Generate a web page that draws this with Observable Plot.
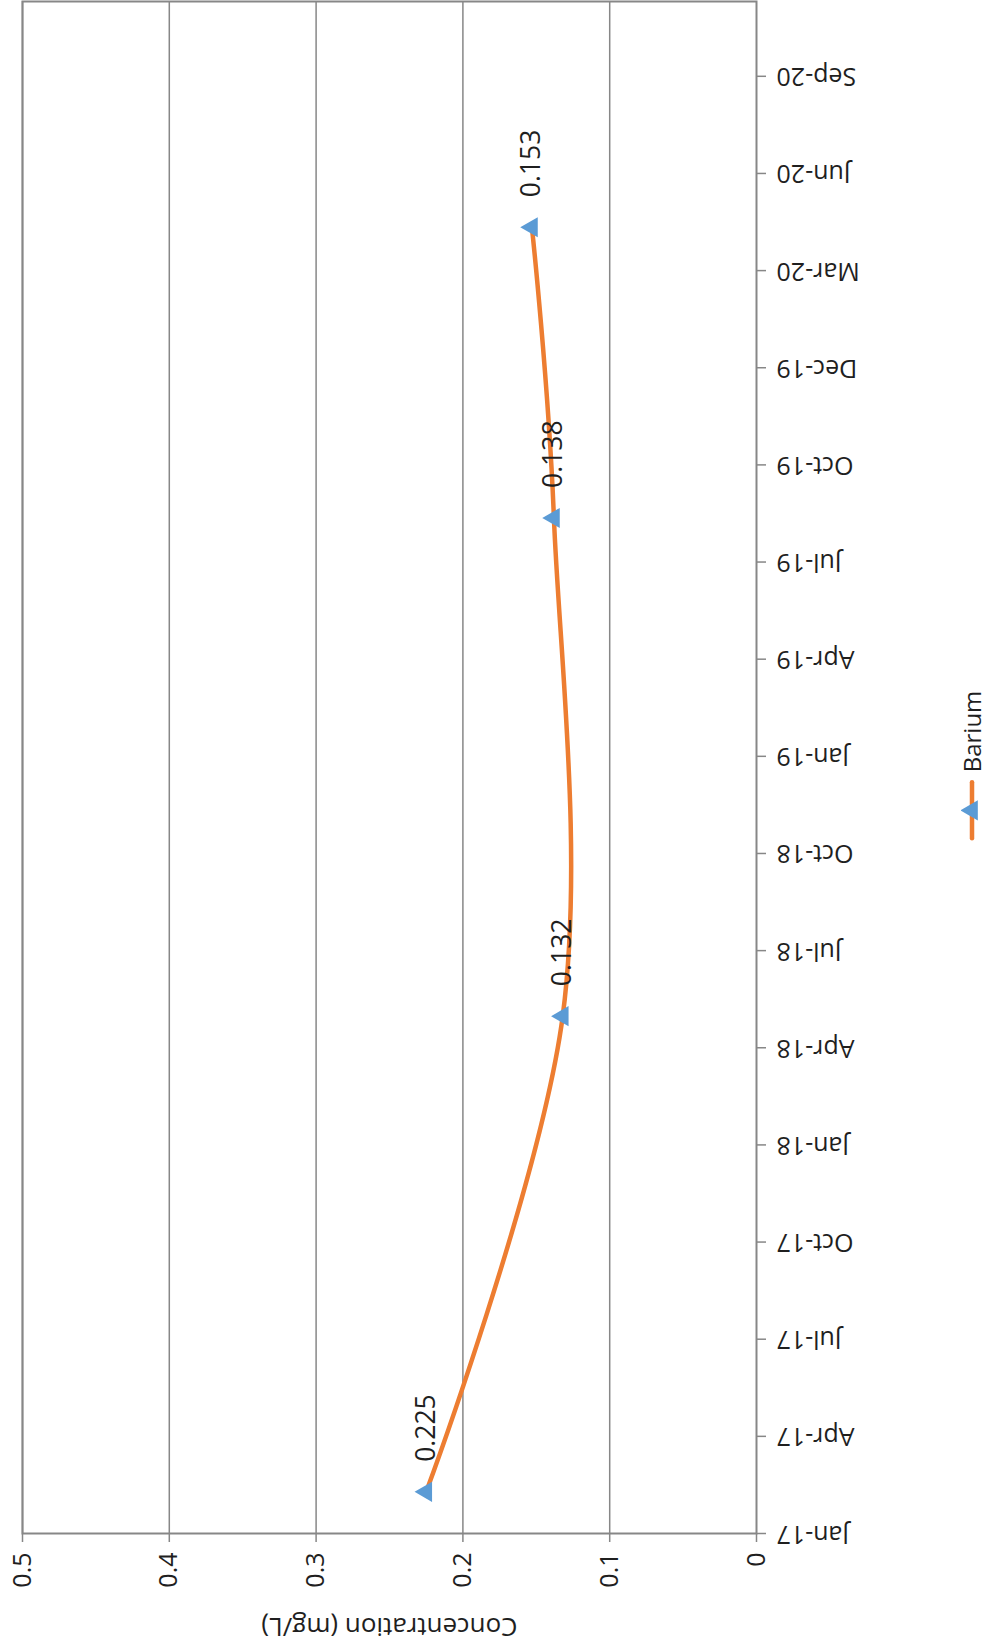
<!DOCTYPE html>
<html>
<head>
<meta charset="utf-8">
<script src="https://cdn.jsdelivr.net/npm/d3@7"></script>
<script src="https://cdn.jsdelivr.net/npm/@observablehq/plot@0.6"></script>
<style>
  html, body { margin: 0; padding: 0; background: #fff; }
  #chart { position: relative; width: 986px; height: 1649px; font-family: "Open Sans", sans-serif; color: #1f1f1f; }
  #chart svg { display: block; }
  .legend {
    position: absolute; left: 972px; top: 766px;
    transform: translate(-50%, -50%) rotate(-90deg);
    display: flex; align-items: center; gap: 7px; white-space: nowrap;
    font-size: 24px; line-height: 1;
  }
  .legend svg { display: block; }
</style>
</head>
<body>
<div id="chart"></div>
<script>
// Barium sampling results
const sampleDates = ["2017-02-13", "2018-05-04", "2019-08-13", "2020-05-11"];
const bariumValues = [0.225, 0.132, 0.138, 0.153];
const seriesName = "Barium";

// Axis ticks
const concentrationTicks = [0, 0.1, 0.2, 0.3, 0.4, 0.5];
const dateTickLabels = [
  "Jan-17", "Apr-17", "Jul-17", "Oct-17", "Jan-18", "Apr-18", "Jul-18", "Oct-18",
  "Jan-19", "Apr-19", "Jul-19", "Oct-19", "Dec-19", "Mar-20", "Jun-20", "Sep-20"
];

const lineColor = "#ED7D31";
const markerColor = "#5B9BD5";
const axisGray = "#878787";
const textColor = "#1f1f1f";

// Date axis with a fixed interval between ticks (in days)
const DAY = 864e5;
const axisStart = new Date(Date.UTC(2017, 0, 5));
const axisStepDays = 90.88;
const dateTicks = dateTickLabels.map((_, i) => new Date(+axisStart + i * axisStepDays * DAY));
const axisEnd = new Date(+axisStart + 15.77 * axisStepDays * DAY);
const labelByTime = new Map(dateTicks.map((d, i) => [+d, dateTickLabels[i]]));

const samples = sampleDates.map((d, i) => ({ date: new Date(d), value: bariumValues[i] }));

const chart = Plot.plot({
  width: 986,
  height: 1649,
  marginLeft: 22,
  marginRight: 230,
  marginTop: 1,
  marginBottom: 116,
  style: { fontFamily: '"Open Sans", sans-serif', fontSize: "25px", color: textColor, background: "#fff", overflow: "visible" },
  x: { domain: [0, 0.5], reverse: true },
  y: { type: "utc", domain: [axisStart, axisEnd] },
  marks: [
    Plot.gridX(concentrationTicks.filter((v) => v > 0), { stroke: axisGray, strokeOpacity: 1, strokeWidth: 1.5 }),
    Plot.frame({ stroke: axisGray, strokeWidth: 2 }),
    Plot.axisX(concentrationTicks, {
      anchor: "bottom", label: null, tickSize: 9, tickPadding: 10, tickRotate: -90,
      stroke: axisGray, strokeWidth: 1.5, fill: textColor,
      tickFormat: (d) => (d === 0 ? "0" : d.toFixed(1))
    }),
    Plot.axisY(dateTicks, {
      anchor: "right", label: null, tickSize: 9, tickPadding: 11, tickRotate: 180,
      textAnchor: "end", lineAnchor: "middle",
      stroke: axisGray, strokeWidth: 1.5, fill: textColor,
      tickFormat: (d) => labelByTime.get(+d)
    }),
    Plot.text(["Concentration (mg/L)"], {
      frameAnchor: "bottom", dy: 93, rotate: 180, lineAnchor: "middle", fill: textColor, fontSize: 26
    }),
    Plot.line(samples, {
      x: "value", y: "date", curve: "cardinal",
      stroke: lineColor, strokeWidth: 4.5, strokeLinecap: "round", strokeLinejoin: "round"
    }),
    Plot.dot(samples, { x: "value", y: "date", symbol: "triangle", r: 7.5, fill: markerColor, rotate: -90 }),
    Plot.text(samples, {
      x: "value", y: "date", text: (d) => d.value.toFixed(3),
      rotate: -90, textAnchor: "start", lineAnchor: "middle", dy: -30, fill: textColor, fontSize: 26.5
    })
  ]
});

const root = document.getElementById("chart");
root.appendChild(chart);

// Legend: line with marker, then series name, turned with the chart
const legend = document.createElement("div");
legend.className = "legend";
legend.innerHTML =
  `<svg width="62" height="22" viewBox="0 0 62 22">` +
  `<line x1="3" y1="11" x2="59" y2="11" stroke="${lineColor}" stroke-width="4.5" stroke-linecap="round"/>` +
  `<path d="${d3.symbol(d3.symbolTriangle, Math.PI * 7.5 * 7.5)()}" transform="translate(31,11)" fill="${markerColor}"/>` +
  `</svg><span>${seriesName}</span>`;
root.appendChild(legend);
</script>
</body>
</html>
